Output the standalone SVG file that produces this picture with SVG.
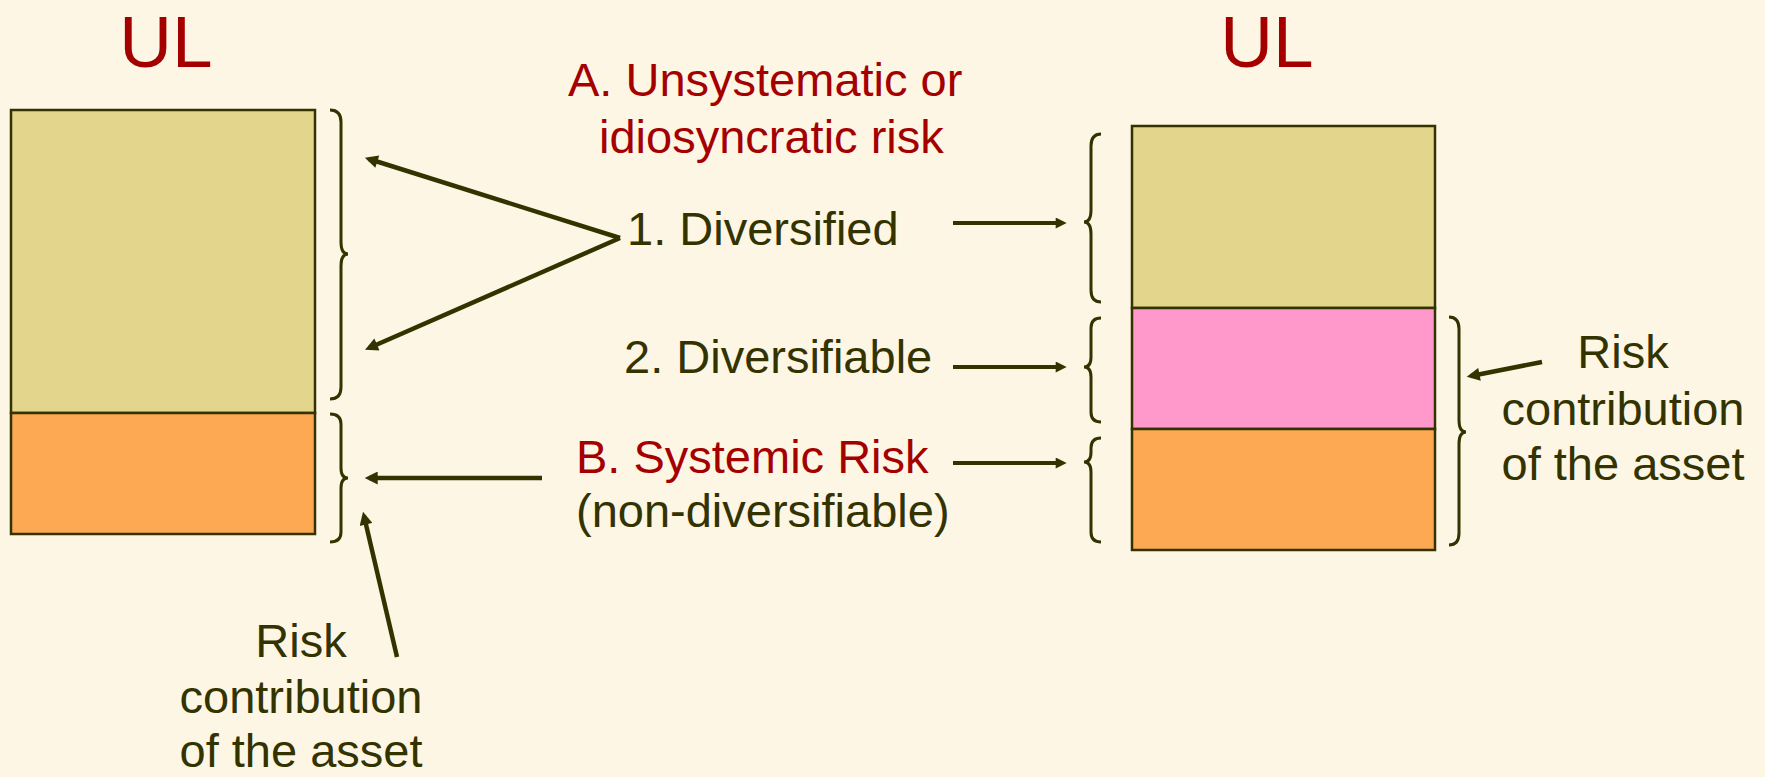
<svg xmlns="http://www.w3.org/2000/svg" width="1765" height="777" viewBox="0 0 1765 777">
<style>
.bg{fill:#FDF6E5}
.t{font-family:"Liberation Sans",Arial,sans-serif;font-size:47px;fill:#333300}
.r{fill:#A50000}
.ul{font-family:"Liberation Sans",Arial,sans-serif;font-size:73px;fill:#A50000}
.box{stroke:#333300;stroke-width:2.5}
.tan{fill:#E3D68C}
.org{fill:#FDA852}
.pink{fill:#FF99CC}
.br{fill:none;stroke:#333300;stroke-width:3}
.ar{fill:none;stroke:#333300;stroke-width:4.5;marker-end:url(#ah)}
.ars{fill:none;stroke:#333300;stroke-width:4;marker-end:url(#ahs)}
</style>
<defs>
<marker id="ah" viewBox="0 0 12 12" refX="8" refY="6" markerUnits="userSpaceOnUse" markerWidth="14" markerHeight="13" orient="auto"><path d="M0,0 L12,6 L0,12 z" fill="#333300"/></marker>
<marker id="ahs" viewBox="0 0 12 12" refX="8" refY="6" markerUnits="userSpaceOnUse" markerWidth="12" markerHeight="11" orient="auto"><path d="M0,0 L12,6 L0,12 z" fill="#333300"/></marker>
</defs>
<rect class="bg" x="0" y="0" width="1765" height="777"/>

<g id="ul-left"><text class="ul" x="166" y="67" text-anchor="middle">UL</text></g>
<g id="ul-right"><text class="ul" x="1267" y="67" text-anchor="middle">UL</text></g>

<g id="left-stack">
<rect class="box tan" x="11" y="110" width="304" height="303"/>
<rect class="box org" x="11" y="413" width="304" height="121"/>
</g>
<g id="left-braces">
<path class="br" d="M330,110 Q341,110 341,122 L341,242 Q341,254 348,254 Q341,254 341,266 L341,387 Q341,399 330,399"/>
<path class="br" d="M330,414 Q341,414 341,424 L341,468 Q341,478 348,478 Q341,478 341,488 L341,532 Q341,542 330,542"/>
</g>

<g id="right-stack">
<rect class="box tan" x="1132" y="126" width="303" height="182"/>
<rect class="box pink" x="1132" y="308" width="303" height="121"/>
<rect class="box org" x="1132" y="429" width="303" height="121"/>
</g>
<g id="right-braces">
<path class="br" d="M1101,134 Q1091,134 1091,146 L1091,210 Q1091,222 1084,222 Q1091,222 1091,234 L1091,290 Q1091,302 1101,302"/>
<path class="br" d="M1101,318 Q1091,318 1091,328 L1091,357 Q1091,367 1084,367 Q1091,367 1091,377 L1091,412 Q1091,422 1101,422"/>
<path class="br" d="M1101,438 Q1091,438 1091,448 L1091,452 Q1091,462 1084,462 Q1091,462 1091,472 L1091,532 Q1091,542 1101,542"/>
<path class="br" d="M1449,317 Q1459,317 1459,329 L1459,420 Q1459,432 1466,432 Q1459,432 1459,444 L1459,533 Q1459,545 1449,545"/>
</g>

<g id="labels-center">
<text class="t r" x="568" y="96">A. Unsystematic or</text>
<text class="t r" x="599" y="153">idiosyncratic risk</text>
<text class="t" x="627" y="245">1. Diversified</text>
<text class="t" x="624" y="373">2. Diversifiable</text>
<text class="t r" x="576" y="473">B. Systemic Risk</text>
<text class="t" x="576" y="527">(non-diversifiable)</text>
</g>
<g id="label-left">
<text class="t" x="301" y="657" text-anchor="middle">Risk</text>
<text class="t" x="301" y="713" text-anchor="middle">contribution</text>
<text class="t" x="301" y="767" text-anchor="middle">of the asset</text>
</g>
<g id="label-right">
<text class="t" x="1623" y="368" text-anchor="middle">Risk</text>
<text class="t" x="1623" y="425" text-anchor="middle">contribution</text>
<text class="t" x="1623" y="480" text-anchor="middle">of the asset</text>
</g>

<g id="connectors">
<path class="ar" d="M620,238 L369,159"/>
<path class="ar" d="M620,238 L369,348"/>
<path class="ar" d="M542,478 L369,478"/>
<path class="ar" d="M397,657 L364,516"/>
<path class="ars" d="M953,223 L1063,223"/>
<path class="ars" d="M953,367 L1063,367"/>
<path class="ars" d="M953,463 L1063,463"/>
<path class="ar" d="M1542,362 L1471,376"/>
</g>
</svg>
